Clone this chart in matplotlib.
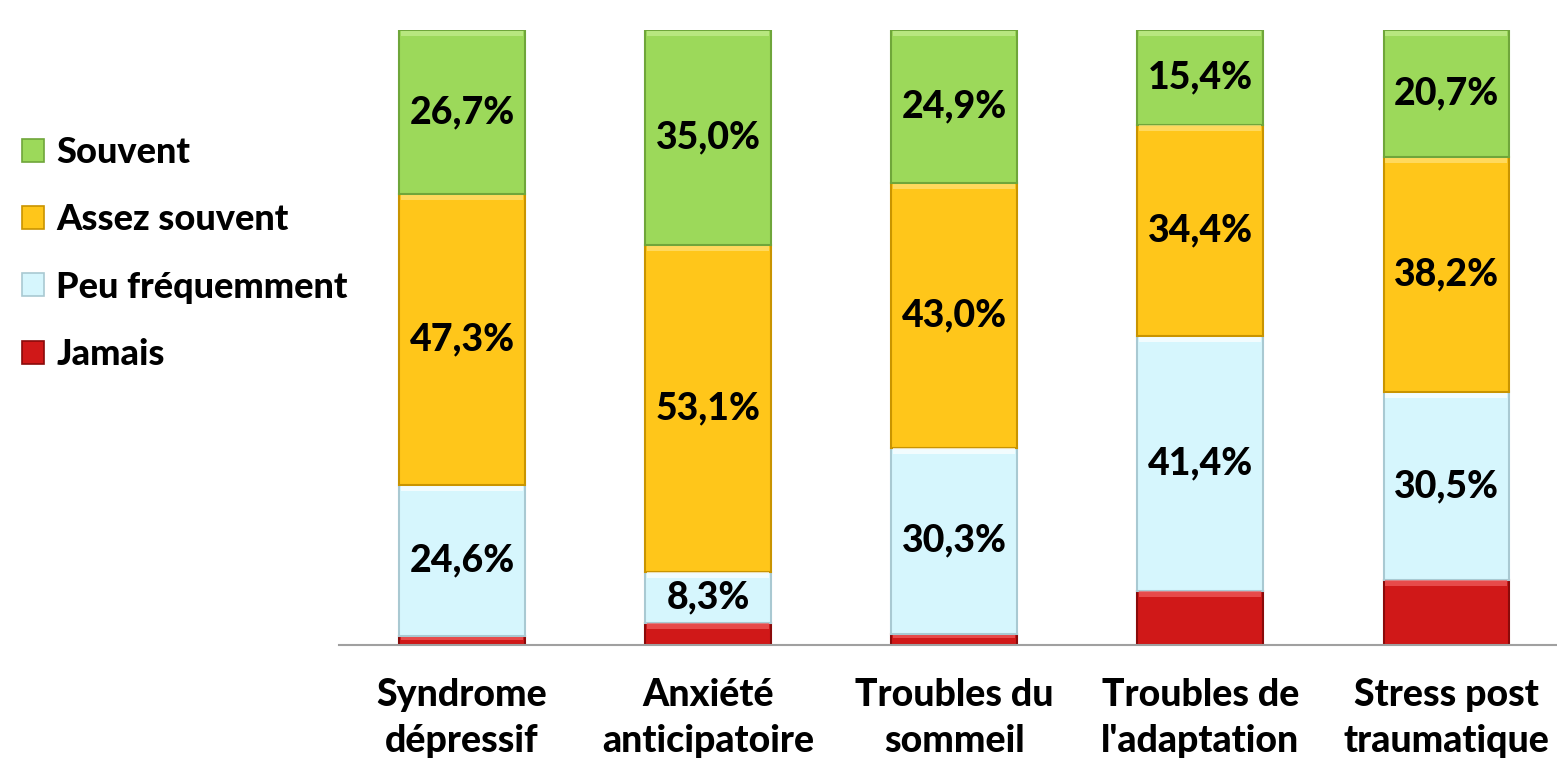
import matplotlib
matplotlib.use("Agg")
import matplotlib.pyplot as plt
from matplotlib.patches import Patch
import numpy as np

categories = ["Syndrome\ndépressif", "Anxiété\nanticipatoire", "Troubles du\nsommeil",
              "Troubles de\nl'adaptation", "Stress post\ntraumatique"]
series_names = ["Jamais", "Peu fréquemment", "Assez souvent", "Souvent"]
jamais = [1.4, 3.6, 1.8, 8.8, 10.6]
peu = [24.6, 8.3, 30.3, 41.4, 30.5]
assez = [47.3, 53.1, 43.0, 34.4, 38.2]
souvent = [26.7, 35.0, 24.9, 15.4, 20.7]
show_label = [False, True, True, True]

colors = ["#D01818", "#D6F6FD", "#FFC61A", "#9CD95A"]
edges = ["#8A0A0A", "#A9C9D2", "#C99400", "#6FA63A"]
highlights = ["#F26060", "#FFFFFF", "#FFE27A", "#C4EE90"]

plt.rcParams['font.family'] = ['Lato', 'DejaVu Sans']
W = 900
FS = 27

fig = plt.figure(figsize=(15.57, 7.6), dpi=100)
ax = fig.add_axes([339/1557, 115/760, 1218/1557, 615/760])

x = np.arange(len(categories))
w = 0.51
data = [jamais, peu, assez, souvent]
bottom = np.zeros(len(categories))
for i, vals in enumerate(data):
    v = np.array(vals)
    ax.bar(x, v, w, bottom=bottom, color=colors[i], edgecolor=edges[i], linewidth=1.5, zorder=2)
    hh = np.minimum(v * 0.3, 0.9)
    ax.bar(x, hh, w * 0.97, bottom=bottom + v - hh - 0.1, color=highlights[i], linewidth=0, zorder=3, alpha=0.7)
    if show_label[i]:
        for xi, b, val in zip(x, bottom, v):
            ax.text(xi, b + val / 2, f"{val:.1f}%".replace(".", ","), ha="center", va="center",
                    fontsize=FS, fontweight=W, color="black", zorder=4)
    bottom += v

ax.set_xlim(-0.5, 4.45)
ax.set_ylim(0, 100)
ax.set_xticks(x)
ax.set_xticklabels(categories, fontsize=FS, fontweight=W, linespacing=1.42)
ax.tick_params(axis="x", length=0, pad=24)
ax.set_yticks([])
for s in ["top", "right", "left"]:
    ax.spines[s].set_visible(False)
ax.spines["bottom"].set_color("#A0A0A0")
ax.spines["bottom"].set_linewidth(1.5)

handles = [Patch(facecolor=colors[i], edgecolor=edges[i], linewidth=1.2, label=series_names[i])
           for i in [3, 2, 1, 0]]
fig.legend(handles=handles, loc="upper left", bbox_to_anchor=(4/1557, 1 - 118/760),
           frameon=False, prop={'weight': W, 'size': 26}, borderpad=0,
           handlelength=0.6, handleheight=0.6, handletextpad=0.35, labelspacing=0.95)

fig.savefig("out.png", dpi=100)
